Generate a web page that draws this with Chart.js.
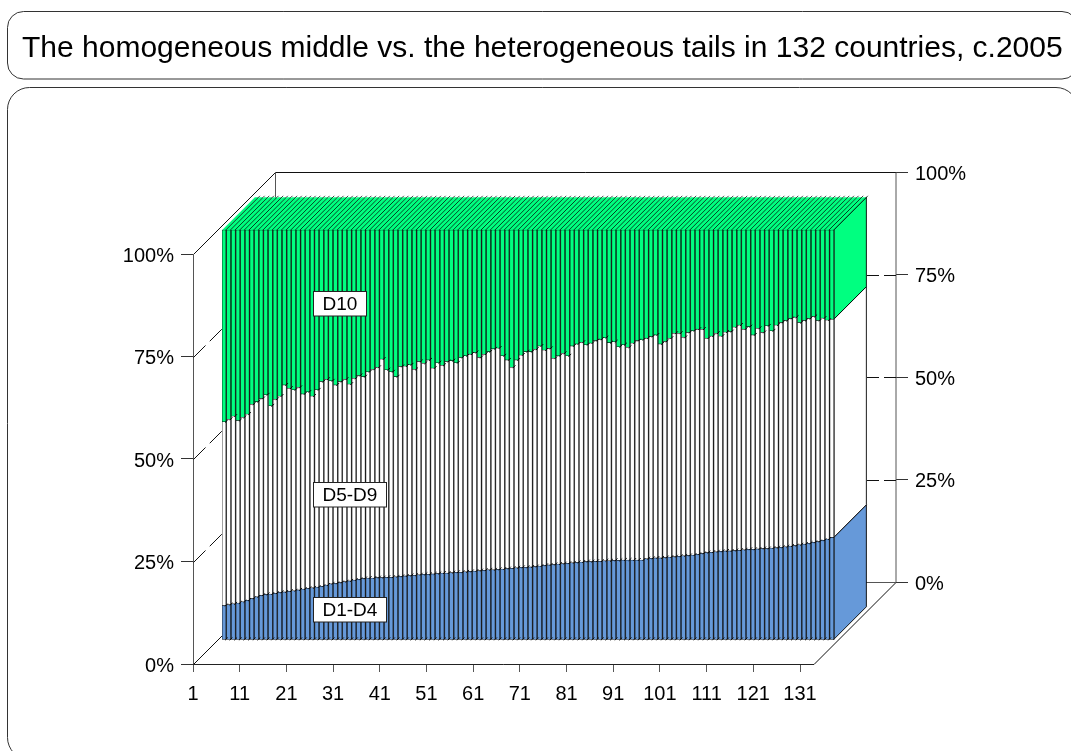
<!DOCTYPE html>
<html>
<head>
<meta charset="utf-8">
<title>The homogeneous middle vs. the heterogeneous tails</title>
<script src="https://cdn.jsdelivr.net/npm/chart.js@4"></script>
<style>html,body{margin:0;padding:0;background:#fff}canvas{display:block}</style>
</head>
<body>
<canvas id="c" width="1071" height="751"></canvas>
<script>
const titleText = 'The homogeneous middle vs. the heterogeneous tails in 132 countries, c.2005';
const xTickValues = [1,11,21,31,41,51,61,71,81,91,101,111,121,131];
const yTickValues = [0,25,50,75,100];
const seriesNames = ['D1-D4','D5-D9','D10'];
const seriesColors = ['#6699d9','#ffffff','#00ff80'];
const labelLevels = [7.4,35.5,82.2];
const countries = [1,2,3,4,5,6,7,8,9,10,11,12,13,14,15,16,17,18,19,20,21,22,23,24,25,26,27,28,29,30,31,32,33,34,35,36,37,38,39,40,41,42,43,44,45,46,47,48,49,50,51,52,53,54,55,56,57,58,59,60,61,62,63,64,65,66,67,68,69,70,71,72,73,74,75,76,77,78,79,80,81,82,83,84,85,86,87,88,89,90,91,92,93,94,95,96,97,98,99,100,101,102,103,104,105,106,107,108,109,110,111,112,113,114,115,116,117,118,119,120,121,122,123,124,125,126,127,128,129,130,131,132];
const d1d4 = [8.4,8.6,8.8,9.0,9.3,9.7,10.1,10.5,10.9,11.1,
11.2,11.4,11.6,11.7,11.9,12.0,12.2,12.4,12.6,12.7,
12.9,13.1,13.4,13.7,13.8,14.0,14.2,14.4,14.6,14.8,
15.0,15.1,15.1,15.2,15.2,15.3,15.3,15.4,15.5,15.6,
15.7,15.8,15.9,16.0,16.0,16.1,16.2,16.3,16.3,16.4,
16.5,16.5,16.6,16.7,16.8,16.9,17.0,17.1,17.1,17.2,
17.3,17.4,17.5,17.6,17.7,17.7,17.8,17.9,18.0,18.2,
18.3,18.4,18.5,18.6,18.7,18.8,18.9,19.0,19.1,19.1,
19.2,19.2,19.3,19.3,19.4,19.4,19.5,19.5,19.5,19.5,
19.5,19.8,19.9,20.0,20.0,20.1,20.2,20.3,20.4,20.5,
20.6,20.7,20.9,21.1,21.3,21.4,21.5,21.6,21.7,21.7,
21.8,21.9,22.0,22.1,22.1,22.2,22.3,22.3,22.4,22.5,
22.6,22.7,22.9,23.0,23.2,23.4,23.6,23.8,24.0,24.3,24.6,25.0];
const d5d9 = [44.8,45.2,45.8,44.5,45.0,45.4,47.4,47.6,48.0,48.7,
45.9,47.3,47.9,50.5,49.5,49.0,49.4,47.6,47.9,46.8,
48.1,49.9,50.2,49.5,48.4,49.0,49.4,48.0,49.2,49.7,
49.2,50.3,50.9,51.3,53.3,50.6,50.1,48.8,51.2,51.2,
51.4,50.2,52.0,51.5,52.3,50.2,51.4,50.7,51.6,51.7,
51.1,52.4,52.7,53.0,53.3,52.0,52.7,53.2,53.9,54.0,
52.0,50.9,49.0,50.7,51.8,52.6,52.5,53.0,53.7,52.5,
52.8,50.3,50.8,51.3,50.6,52.9,53.3,53.6,52.9,53.3,
53.8,54.1,54.4,53.2,53.3,52.1,52.5,51.9,52.9,53.5,
53.7,53.8,54.1,54.4,52.2,52.7,53.4,54.5,54.4,53.3,
54.4,54.7,54.9,54.7,52.3,52.7,53.3,52.5,53.4,53.5,
54.5,54.9,53.8,54.3,52.3,53.8,52.7,54.3,53.0,54.3,
54.8,55.2,55.5,55.7,54.2,54.5,54.8,55.1,53.9,54.2,53.4,53.2];
const d10 = [46.8,46.2,45.4,46.5,45.7,44.9,42.5,41.9,41.1,40.2,
42.9,41.3,40.5,37.8,38.6,39.0,38.4,40.0,39.5,40.5,
39.0,37.0,36.4,36.8,37.8,37.0,36.4,37.6,36.2,35.5,
35.8,34.6,34.0,33.5,31.5,34.1,34.6,35.8,33.3,33.2,
32.9,34.0,32.1,32.5,31.7,33.7,32.4,33.0,32.1,31.9,
32.4,31.1,30.7,30.3,29.9,31.1,30.3,29.7,29.0,28.8,
30.7,31.7,33.5,31.7,30.5,29.7,29.7,29.1,28.3,29.3,
28.9,31.3,30.7,30.1,30.7,28.3,27.8,27.4,28.0,27.6,
27.0,26.7,26.3,27.5,27.3,28.5,28.0,28.6,27.6,27.0,
26.8,26.4,26.0,25.6,27.8,27.2,26.4,25.2,25.2,26.2,
25.0,24.6,24.2,24.2,26.4,25.9,25.2,25.9,24.9,24.8,
23.7,23.2,24.2,23.6,25.6,24.0,25.0,23.4,24.6,23.2,
22.6,22.1,21.6,21.3,22.6,22.1,21.6,21.1,22.1,21.5,22.0,21.8];

const FONT = '"Liberation Sans", Arial, sans-serif';
const SHIFT_X = 29, SHIFT_Y = -24, BAR_DEPTH = 32.7, WALL_DEPTH = 82;

function poly(ctx, pts, fill, stroke, lw) {
  ctx.beginPath();
  pts.forEach((p, i) => i ? ctx.lineTo(p[0], p[1]) : ctx.moveTo(p[0], p[1]));
  ctx.closePath();
  if (fill) { ctx.fillStyle = fill; ctx.fill(); }
  if (stroke) { ctx.strokeStyle = stroke; ctx.lineWidth = lw; ctx.stroke(); }
}
function line(ctx, x1, y1, x2, y2, color, dash) {
  ctx.save();
  ctx.beginPath();
  ctx.strokeStyle = color; ctx.lineWidth = 1;
  ctx.setLineDash(dash || []);
  ctx.moveTo(x1, y1); ctx.lineTo(x2, y2); ctx.stroke();
  ctx.restore();
}
function roundedPanel(ctx, x, y, w, h, r) {
  ctx.beginPath();
  ctx.roundRect(x, y, w, h, r);
  ctx.strokeStyle = '#333'; ctx.lineWidth = 1; ctx.stroke();
}

const panels = {
  id: 'panels',
  beforeDraw(chart) {
    const c = chart.ctx;
    c.save();
    c.fillStyle = '#fff'; c.fillRect(0, 0, chart.width, chart.height);
    roundedPanel(c, 7.5, 11.5, 1070.5, 67.5, 16);
    roundedPanel(c, 7.5, 87.5, 1070.5, 672, 22);
    c.restore();
  }
};

const depth3d = {
  id: 'depth3d',
  beforeDatasetsDraw(chart) {
    const c = chart.ctx, sx = chart.scales.x, sy = chart.scales.y;
    const x0 = sx.getPixelForValue(1) + 0.5, x1 = sx.getPixelForValue(134);
    const y0 = Math.round(sy.getPixelForValue(0)) + 0.5, y100 = Math.round(sy.getPixelForValue(100)) + 0.5;
    const d = WALL_DEPTH;
    c.save();
    line(c, x0, y100, x0, y0, '#555');
    line(c, x0, y0, x1, y0, '#222');
    line(c, x0, y0, x0 + d, y0 - d, '#111');
    line(c, x1, y0, x1 + d, y0 - d, '#111');
    line(c, x0, y100, x0 + d, y100 - d, '#111');
    line(c, x0 + d, y100 - d, x1 + d, y100 - d, '#111');
    line(c, x0 + d, y100 - d, x0 + d, y0 - d, '#555');
    line(c, x1 + d, y100 - d, x1 + d, y0 - d, '#555');
    line(c, x0 + d, y0 - d, x1 + d, y0 - d, '#555');
    yTickValues.filter(v => v > 0 && v < 100).forEach(v => {
      const y = Math.round(sy.getPixelForValue(v)) + 0.5;
      line(c, x0, y, x0 + d, y - d, '#111', [17, 6]);
      line(c, x1 + d, y - d, x0 + d, y - d, '#111', [12, 5]);
    });
    c.restore();

    c.save();
    c.translate(SHIFT_X, SHIFT_Y);
    const metas = chart.data.datasets.map((_, i) => chart.getDatasetMeta(i));
    const n = chart.data.labels.length;
    const D = BAR_DEPTH;
    for (let i = 0; i < n; i++) {
      metas.forEach((m, s) => {
        const e = m.data[i];
        const r = e.x + e.width / 2, l = e.x - e.width / 2;
        poly(c, [[r, e.base], [r + D, e.base - D], [r + D, e.y - D], [r, e.y]], seriesColors[s], i === n - 1 ? '#000' : null, 0.9);
        if (s === metas.length - 1) {
          poly(c, [[l, e.y], [l + D, e.y - D], [r + D, e.y - D], [r, e.y]], seriesColors[s], null, 0);
          c.beginPath();
          c.strokeStyle = '#000'; c.lineWidth = 0.75;
          c.moveTo(r, e.y); c.lineTo(r + D + 1.5, e.y - D - 1.5);
          c.stroke();
        }
      });
      const top = metas[metas.length - 1].data[i], bottom = metas[0].data[i];
      const gx = top.x + top.width / 2 + 0.5;
      c.beginPath();
      c.strokeStyle = '#222'; c.lineWidth = 1;
      c.moveTo(gx, bottom.base); c.lineTo(gx, top.y); c.stroke();
    }
  },
  afterDatasetsDraw(chart) {
    const c = chart.ctx, sy = chart.scales.y;
    const metas = chart.data.datasets.map((_, i) => chart.getDatasetMeta(i));
    // short slanted edges where each segment's depth shows at its upper boundary and at the floor
    c.strokeStyle = '#000'; c.lineWidth = 0.9;
    chart.data.labels.forEach((_, i) => {
      const lowest = metas[0].data[i];
      const r = lowest.x + lowest.width / 2;
      const edges = [lowest.base, lowest.y, metas[1].data[i].y];
      if (i === chart.data.labels.length - 1) return;
      edges.forEach(y => {
        c.beginPath();
        c.moveTo(r - 0.8, y + 0.8);
        c.lineTo(r + 2, y - 2);
        c.stroke();
      });
    });
    c.restore();
    c.save();
    c.font = '19px ' + FONT;
    c.textBaseline = 'middle';
    c.textAlign = 'left';
    seriesNames.forEach((name, s) => {
      const y = sy.getPixelForValue(labelLevels[s]) + SHIFT_Y;
      const w = c.measureText(name).width;
      const bx = 313.5, bw = Math.round(w + 18), bh = 24.5;
      const by = Math.round(y - bh / 2) + 0.5;
      c.fillStyle = '#fff'; c.fillRect(bx, by, bw, bh);
      c.strokeStyle = '#222'; c.lineWidth = 1; c.strokeRect(bx, by, bw, bh);
      c.fillStyle = '#000'; c.fillText(name, bx + 9, by + bh / 2 + 1);
    });
    c.restore();
  }
};

const barSet = (s, values) => ({
  label: seriesNames[s], data: values, backgroundColor: seriesColors[s],
  borderColor: '#000', borderWidth: 0.5, borderSkipped: false,
  barThickness: 3.6, barPercentage: 1, categoryPercentage: 1,
  xAxisID: 'xb', yAxisID: 'y', stack: 'shares'
});
const tickFont = { family: FONT, size: 20 };
const keepTicks = values => scale => { scale.ticks = values.map(v => ({ value: v })); };
const noPad = s => { s.paddingLeft = s.paddingRight = s.paddingTop = s.paddingBottom = 0; };

new Chart(document.getElementById('c'), {
  type: 'bar',
  data: { labels: countries, datasets: [barSet(0, d1d4), barSet(1, d5d9), barSet(2, d10)] },
  plugins: [panels, depth3d],
  options: {
    responsive: false, animation: false, events: [],
    layout: { autoPadding: false, padding: { left: 22, right: 0, top: 0, bottom: 0 } },
    plugins: {
      legend: { display: false }, tooltip: { enabled: false },
      title: {
        display: true, text: titleText, align: 'start', color: '#000',
        font: { family: FONT, size: 30, weight: 'normal', lineHeight: 1.2 },
        padding: { top: 31, bottom: 105 }
      }
    },
    scales: {
      xb: { type: 'linear', axis: 'x', display: false, stacked: true, offset: false, grid: { offset: false }, min: 0.569, max: 152.07 },
      x: {
        type: 'linear', position: 'bottom', min: 1, max: 151.56, offset: false,
        border: { display: false },
        grid: { offset: false, drawOnChartArea: false, tickLength: 8, color: '#555', tickColor: '#555' },
        ticks: { color: '#000', font: tickFont, padding: 10, autoSkip: false, maxRotation: 0, callback: v => String(v) },
        afterBuildTicks: keepTicks(xTickValues),
        afterFit: s => { s.height = 87; noPad(s); }
      },
      y: {
        position: 'left', stacked: true, min: 0, max: 120,
        border: { display: false },
        grid: { drawOnChartArea: false, tickLength: 12, color: '#333', tickColor: '#333' },
        ticks: { color: '#000', font: tickFont, padding: 7, labelOffset: 2, callback: v => v + '%' },
        afterBuildTicks: keepTicks(yTickValues),
        afterFit: s => { s.width = 171; noPad(s); }
      },
      yr: {
        position: 'right', min: -20, max: 100,
        border: { display: false },
        grid: { drawOnChartArea: false, tickLength: 12, color: '#333', tickColor: '#333' },
        ticks: { color: '#000', font: tickFont, padding: 7, labelOffset: 2, callback: v => v + '%' },
        afterBuildTicks: keepTicks(yTickValues),
        afterFit: s => { s.width = 175; noPad(s); }
      }
    }
  }
});
</script>
</body>
</html>
